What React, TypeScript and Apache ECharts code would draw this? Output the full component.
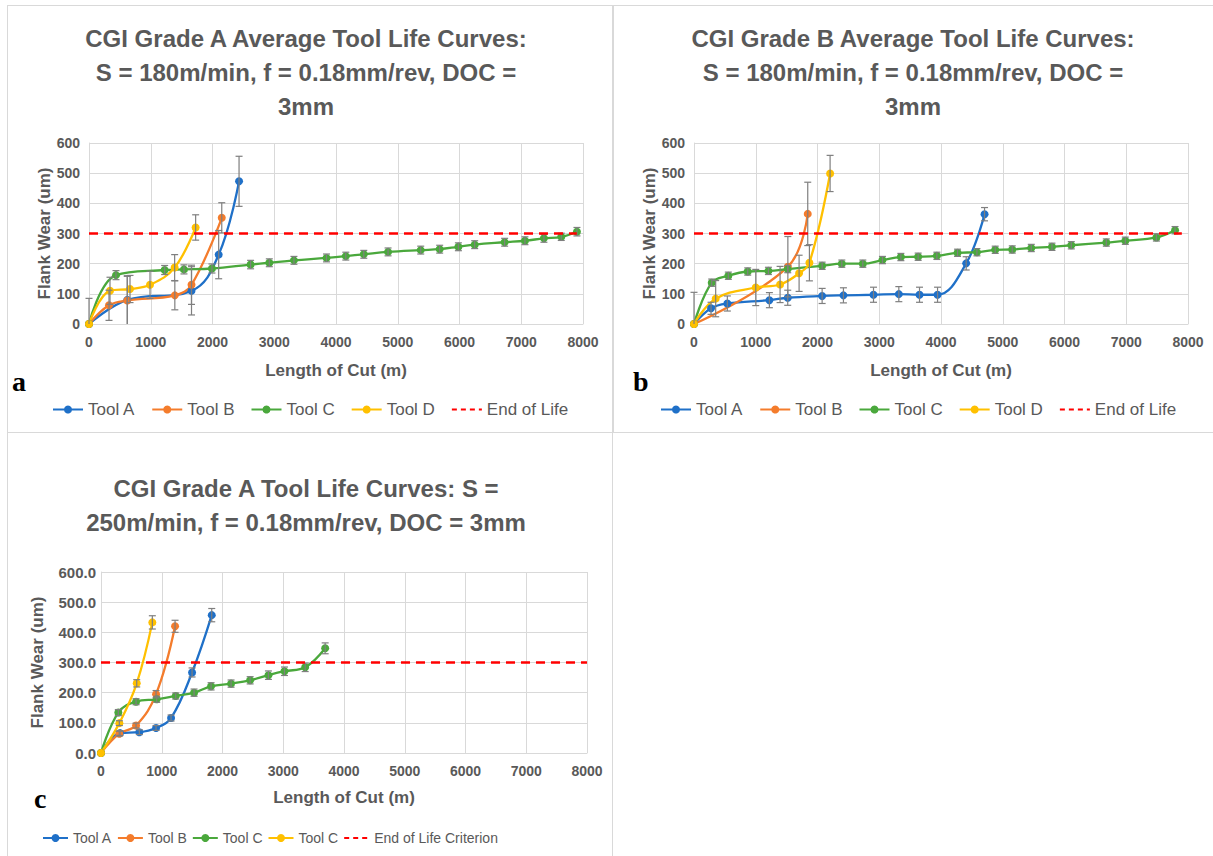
import React, { useEffect, useRef } from 'react';
import * as echarts from 'echarts';

// ---------- Panel a: CGI Grade A, 180 m/min ----------
const aToolA = [[0, 0], [620, 80], [1660, 110], [2100, 230], [2430, 473]];
const aToolAErr = [85, 80, 80, 80, 83];
const aToolB = [[0, 0], [324, 62], [620, 78], [1390, 95], [1660, 130], [2150, 352]];
const aToolBErr = [0, 50, 80, 48, 65, 50];
const aToolC = [[0, 0], [437, 162], [1225, 179], [1538, 181], [1991, 184], [2617, 197], [2920, 203], [3319, 211], [3846, 219], [4159, 225], [4450, 231], [4843, 239], [5372, 245], [5679, 248], [5982, 256], [6246, 263], [6731, 271], [7060, 276], [7367, 284], [7648, 289], [7902, 306]];
const aToolCErr = [0, 15, 15, 15, 15, 14, 13, 13, 13, 13, 13, 13, 13, 13, 13, 13, 13, 13, 13, 12, 14];
const aToolD = [[0, 0], [340, 110], [664, 116], [988, 130], [1387, 187], [1727, 320]];
const aToolDErr = [0, 45, 45, 45, 43, 42];
const aEndOfLife = [[0, 300], [7900, 300]];

// ---------- Panel b: CGI Grade B, 180 m/min ----------
const bToolA = [[0, 0], [276, 52], [540, 68], [1221, 79], [1518, 87], [2075, 93], [2420, 95], [2907, 97], [3317, 99], [3652, 97], [3944, 97], [4408, 201], [4705, 364]];
const bToolAErr = [105, 20, 25, 25, 25, 25, 25, 25, 25, 25, 25, 22, 22];
const bToolB = [[0, 0], [1520, 190], [1842, 365]];
const bToolBErr = [0, 100, 105];
const bToolC = [[0, 0], [287, 137], [556, 160], [870, 174], [1205, 176], [1518, 182], [2075, 193], [2394, 200], [2734, 200], [3052, 212], [3350, 222], [3630, 223], [3933, 226], [4268, 236], [4582, 238], [4878, 246], [5154, 247], [5462, 252], [5797, 256], [6110, 261], [6677, 270], [6985, 276], [7488, 287], [7790, 311]];
const bToolCErr = [0, 12, 12, 12, 12, 12, 12, 12, 12, 12, 12, 12, 12, 12, 12, 12, 12, 12, 12, 12, 12, 12, 12, 12];
const bToolD = [[0, 0], [351, 84], [1000, 121], [1394, 131], [1702, 168], [1869, 203], [2204, 499]];
const bToolDErr = [0, 60, 60, 60, 60, 60, 60];
const bEndOfLife = [[0, 300], [7900, 300]];

// ---------- Panel c: CGI Grade A, 250 m/min ----------
const cToolA = [[0, 0], [313, 66], [631, 69], [906, 83], [1153, 116], [1499, 267], [1823, 457]];
const cToolAErr = [0, 8, 8, 8, 10, 15, 22];
const cToolB = [[0, 0], [300, 64], [577, 91], [906, 195], [1219, 420]];
const cToolBErr = [0, 8, 8, 12, 20];
const cToolC = [[0, 0], [285, 134], [577, 170], [917, 178], [1230, 189], [1532, 200], [1812, 221], [2141, 230], [2455, 241], [2756, 258], [3020, 271], [3361, 284], [3690, 347]];
const cToolCErr = [0, 10, 10, 10, 10, 12, 12, 12, 12, 14, 14, 14, 18];
const cToolD = [[0, 0], [302, 99], [588, 231], [845, 433]];
const cToolDErr = [0, 8, 12, 22];
const cEndOfLife = [[0, 300], [8000, 300]];

const xTicks = { min: 0, max: 8000, interval: 1000 };
const yTicks = { min: 0, max: 600, interval: 100 };

const FONT = '"Liberation Sans", Arial, sans-serif';
const GRAY = '#595959';
const GRID = '#d9d9d9';
const ERR = '#7f7f7f';
const BLUE = '#1f70c8';
const ORANGE = '#f47c2c';
const GREEN = '#4aa83c';
const YELLOW = '#ffc000';
const RED = '#ff0000';

function errRender(params: any, api: any) {
  const x = api.value(0);
  const lo = api.value(1);
  const hi = api.value(2);
  const top = api.coord([x, hi]);
  const bot = api.coord([x, Math.max(lo, 0)]);
  const w = 3.5;
  const st = { stroke: ERR, lineWidth: 1.2 };
  const children: any[] = [
    { type: 'line', shape: { x1: top[0], y1: top[1], x2: bot[0], y2: bot[1] }, style: st },
    { type: 'line', shape: { x1: top[0] - w, y1: top[1], x2: top[0] + w, y2: top[1] }, style: st },
  ];
  if (lo > 0) {
    children.push({ type: 'line', shape: { x1: bot[0] - w, y1: bot[1], x2: bot[0] + w, y2: bot[1] }, style: st });
  }
  return { type: 'group', children };
}

type Tool = { key: string; label: string; data: number[][]; err: number[]; color: string };

function buildOption(p: any) {
  const series: any[] = [];
  p.tools.forEach((t: Tool) => {
    series.push({
      type: 'line', name: t.key, data: t.data, smooth: 0.4,
      symbol: 'circle', symbolSize: 8, showSymbol: true,
      lineStyle: { width: 2.3, color: t.color }, itemStyle: { color: t.color }, z: 3,
    });
  });
  p.tools.forEach((t: Tool) => {
    series.push({
      type: 'custom', name: t.key + ' error',
      data: t.data.map((d, i) => [d[0], d[1] - t.err[i], d[1] + t.err[i]]).filter((_, i) => t.err[i] > 0),
      renderItem: errRender, encode: { x: 0, y: [1, 2] }, z: 4, silent: true,
    });
  });
  series.push({
    type: 'line', name: p.eolName, data: p.eol, symbol: 'none',
    lineStyle: { type: [9, 6], width: 2.3, color: RED }, itemStyle: { color: RED }, z: 5,
  });
  const labelMap: Record<string, string> = {};
  p.tools.forEach((t: Tool) => { labelMap[t.key] = t.label; });
  return {
    animation: false,
    textStyle: { fontFamily: FONT },
    title: {
      text: p.title, left: 'center', top: p.titleTop, padding: 0,
      textStyle: { fontFamily: FONT, fontSize: 24, fontWeight: 'bold', color: GRAY, lineHeight: 34 },
    },
    grid: p.grid,
    legend: {
      data: p.tools.map((t: Tool) => t.key).concat([
        { name: p.eolName, itemStyle: { opacity: 0 }, lineStyle: { type: [5, 4] } } as any,
      ]),
      formatter: (n: string) => labelMap[n] ?? n,
      left: p.legendLeft, top: p.legendTop, padding: 0,
      itemWidth: p.legendIcon, itemHeight: 10, itemGap: p.legendGap,
      textStyle: { fontFamily: FONT, fontSize: p.legendFont, color: GRAY },
    },
    xAxis: {
      type: 'value', ...xTicks,
      axisLine: { show: true, lineStyle: { color: GRID } }, axisTick: { show: false },
      splitLine: { show: true, lineStyle: { color: GRID, width: 1 } },
      axisLabel: {
        color: GRAY, fontWeight: 'bold', fontSize: p.xLabelFont, margin: p.xLabelMargin, fontFamily: FONT,
        formatter: (v: number) => String(v),
      },
      name: 'Length of Cut (m)', nameLocation: 'middle', nameGap: p.xNameGap, nameMoveOverlap: false,
      nameTextStyle: { fontSize: 17, fontWeight: 'bold', color: GRAY, fontFamily: FONT },
    },
    yAxis: {
      type: 'value', ...yTicks,
      axisLine: { show: true, lineStyle: { color: GRID } }, axisTick: { show: false },
      splitLine: { show: true, lineStyle: { color: GRID, width: 1 } },
      axisLabel: {
        color: GRAY, fontWeight: 'bold', fontSize: p.yLabelFont, margin: p.yLabelMargin, fontFamily: FONT,
        formatter: p.yFormatter,
      },
      name: 'Flank Wear (um)', nameLocation: 'middle', nameGap: p.yNameGap, nameRotate: 90, nameMoveOverlap: false,
      nameTextStyle: { fontSize: 17, fontWeight: 'bold', color: GRAY, fontFamily: FONT },
    },
    graphic: [
      { type: 'text', x: p.letterX, y: p.letterY, style: { text: p.letter, font: 'bold 28px "Liberation Serif", "DejaVu Serif", serif', fill: '#000', verticalAlign: 'middle' } },
    ],
    series,
  };
}

const optA = buildOption({
  title: 'CGI Grade A Average Tool Life Curves:\nS = 180m/min, f = 0.18mm/rev, DOC =\n3mm',
  titleTop: 21,
  grid: { left: 89, right: 29, top: 143, bottom: 108 },
  tools: [
    { key: 'Tool A', label: 'Tool A', data: aToolA, err: aToolAErr, color: BLUE },
    { key: 'Tool B', label: 'Tool B', data: aToolB, err: aToolBErr, color: ORANGE },
    { key: 'Tool C', label: 'Tool C', data: aToolC, err: aToolCErr, color: GREEN },
    { key: 'Tool D', label: 'Tool D', data: aToolD, err: aToolDErr, color: YELLOW },
  ],
  eolName: 'End of Life', eol: aEndOfLife,
  legendLeft: 52, legendTop: 401, legendGap: 16, legendFont: 17, legendIcon: 30,
  xLabelFont: 14, xLabelMargin: 11, xNameGap: 38,
  yLabelFont: 14, yLabelMargin: 9, yNameGap: 36, yFormatter: (v: number) => String(v),
  letter: 'a', letterX: 12, letterY: 381,
});

const optB = buildOption({
  title: 'CGI Grade B Average Tool Life Curves:\nS = 180m/min, f = 0.18mm/rev, DOC =\n3mm',
  titleTop: 21,
  grid: { left: 81, right: 25, top: 143, bottom: 108 },
  tools: [
    { key: 'Tool A', label: 'Tool A', data: bToolA, err: bToolAErr, color: BLUE },
    { key: 'Tool B', label: 'Tool B', data: bToolB, err: bToolBErr, color: ORANGE },
    { key: 'Tool C', label: 'Tool C', data: bToolC, err: bToolCErr, color: GREEN },
    { key: 'Tool D', label: 'Tool D', data: bToolD, err: bToolDErr, color: YELLOW },
  ],
  eolName: 'End of Life', eol: bEndOfLife,
  legendLeft: 47, legendTop: 401, legendGap: 16, legendFont: 17, legendIcon: 30,
  xLabelFont: 14, xLabelMargin: 11, xNameGap: 38,
  yLabelFont: 14, yLabelMargin: 9, yNameGap: 36, yFormatter: (v: number) => String(v),
  letter: 'b', letterX: 20, letterY: 381,
});

const optC = buildOption({
  title: 'CGI Grade A Tool Life Curves: S =\n250m/min, f = 0.18mm/rev, DOC = 3mm',
  titleTop: 38,
  grid: { left: 101, right: 25, top: 139, bottom: 103 },
  tools: [
    { key: 'Tool A', label: 'Tool A', data: cToolA, err: cToolAErr, color: BLUE },
    { key: 'Tool B', label: 'Tool B', data: cToolB, err: cToolBErr, color: ORANGE },
    { key: 'Tool C', label: 'Tool C', data: cToolC, err: cToolCErr, color: GREEN },
    { key: 'Tool C (yellow)', label: 'Tool C', data: cToolD, err: cToolDErr, color: YELLOW },
  ],
  eolName: 'End of Life Criterion', eol: cEndOfLife,
  legendLeft: 42, legendTop: 398, legendGap: 5, legendFont: 14, legendIcon: 25,
  xLabelFont: 14, xLabelMargin: 11, xNameGap: 36,
  yLabelFont: 15, yLabelMargin: 5, yNameGap: 55, yFormatter: (v: number) => v.toFixed(1),
  letter: 'c', letterX: 34, letterY: 365,
});

function Chart({ option, style }: { option: any; style: React.CSSProperties }) {
  const ref = useRef<HTMLDivElement>(null);
  useEffect(() => {
    const chart = echarts.init(ref.current!, null, { renderer: 'svg' });
    chart.setOption(option);
    return () => chart.dispose();
  }, [option]);
  return <div ref={ref} style={{ position: 'absolute', ...style }} />;
}

export default function App() {
  const border = '1px solid #d9d9d9';
  return (
    <div style={{ position: 'absolute', left: 0, top: 0, width: 1213, height: 856, background: '#fff', overflow: 'hidden' }}>
      <div style={{ position: 'absolute', left: 7, top: 5, width: 606, height: 428, border, boxSizing: 'border-box' }} />
      <div style={{ position: 'absolute', left: 613, top: 5, width: 620, height: 428, border, boxSizing: 'border-box' }} />
      <div style={{ position: 'absolute', left: 7, top: 432, width: 606, height: 440, border, boxSizing: 'border-box' }} />
      <Chart option={optA} style={{ left: 0, top: 0, width: 612, height: 432 }} />
      <Chart option={optB} style={{ left: 613, top: 0, width: 600, height: 432 }} />
      <Chart option={optC} style={{ left: 0, top: 433, width: 612, height: 423 }} />
    </div>
  );
}
